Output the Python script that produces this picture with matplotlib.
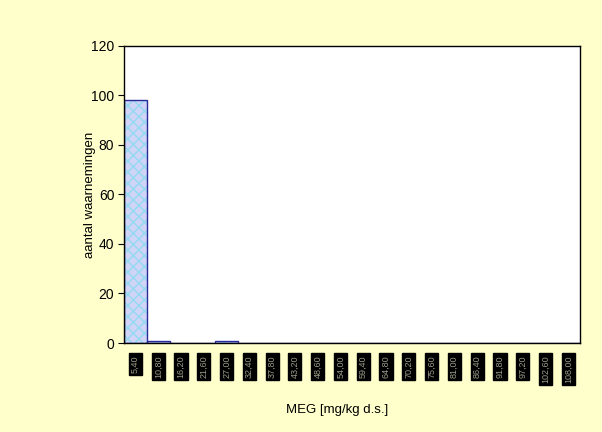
import numpy as np
import matplotlib.pyplot as plt

plt.rcParams['font.family'] = ['Liberation Sans', 'DejaVu Sans']

# data
bins = ["5,40", "10,80", "16,20", "21,60", "27,00", "32,40", "37,80", "43,20",
        "48,60", "54,00", "59,40", "64,80", "70,20", "75,60", "81,00", "86,40",
        "91,80", "97,20", "102,60", "108,00"]
counts = [98, 1, 0, 0, 1, 0, 0, 0, 0, 0, 0, 0, 0, 0, 0, 0, 0, 0, 0, 0]

bg = '#FFFFCC'
fig = plt.figure(figsize=(6.02, 4.32), dpi=100, facecolor=bg)
ax = fig.add_axes([0.206, 0.206, 0.757, 0.688])
ax.set_facecolor('white')

x = np.arange(len(bins))
# patterned fill, then outline on top
ax.bar(x, counts, width=1.0, facecolor='#D0D4F6', edgecolor='#92DAF2',
       hatch='xxx', linewidth=0)
ax.bar(x, counts, width=1.0, facecolor='none', edgecolor='#2A2A9A',
       linewidth=1.0)

ax.set_xlim(-0.5, len(bins) - 0.5)
ax.set_ylim(0, 120)
ax.set_yticks(range(0, 121, 20))
ax.tick_params(axis='y', labelsize=10, direction='out', length=4, pad=3)
ax.set_xticks(x)
ax.set_xticklabels(bins, rotation=90, fontsize=6.5, color='#9A9A88',
                   bbox=dict(facecolor='black', edgecolor='black', pad=1.5))
ax.tick_params(axis='x', length=0, pad=9)
for s in ax.spines.values():
    s.set_color('black')
    s.set_linewidth(1.0)

ax.set_ylabel('aantal waarnemingen', fontsize=9.5, labelpad=0)
ax.yaxis.set_label_coords(-0.062, 0.5)
fig.text(0.56, 0.045, 'MEG [mg/kg d.s.]', ha='center', fontsize=9.5)

fig.savefig('out.png', dpi=100, facecolor=bg)
